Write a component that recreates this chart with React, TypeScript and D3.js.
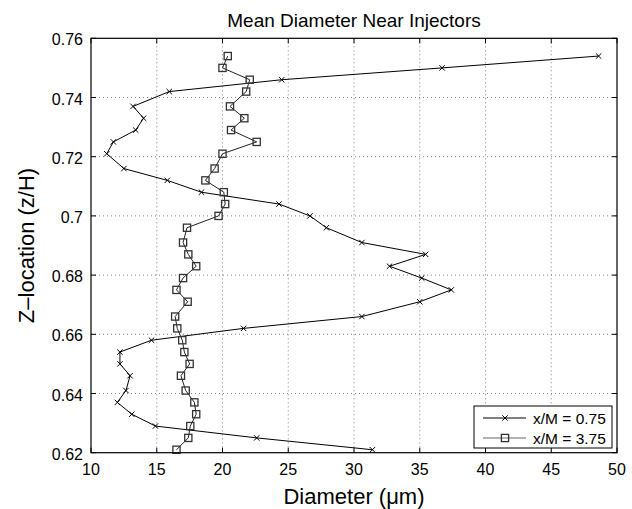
import React from "react";
import * as d3 from "d3";

const zLocations = [0.754, 0.750, 0.746, 0.742, 0.737, 0.733, 0.729, 0.725, 0.721, 0.716, 0.712, 0.708, 0.704, 0.700, 0.696, 0.691, 0.687, 0.683, 0.679, 0.675, 0.671, 0.666, 0.662, 0.658, 0.654, 0.650, 0.646, 0.641, 0.637, 0.633, 0.629, 0.625, 0.621];
const diamXM075 = [48.6, 36.7, 24.5, 15.95, 13.2, 14.0, 13.4, 11.7, 11.2, 12.5, 15.8, 18.4, 24.3, 26.65, 27.9, 30.6, 35.45, 32.7, 35.15, 37.4, 35.0, 30.6, 21.6, 14.6, 12.2, 12.2, 12.97, 12.66, 12.0, 13.1, 14.9, 22.6, 31.4];
const diamXM375 = [20.4, 20.0, 22.07, 21.8, 20.57, 21.66, 20.65, 22.6, 20.0, 19.4, 18.7, 20.1, 20.2, 19.7, 17.3, 17.0, 17.4, 18.0, 17.0, 16.5, 17.35, 16.4, 16.56, 16.94, 17.1, 17.5, 16.84, 17.2, 17.86, 18.0, 17.55, 17.4, 16.5];
const xTicks = [10, 15, 20, 25, 30, 35, 40, 45, 50];
const yTicks = [0.62, 0.64, 0.66, 0.68, 0.7, 0.72, 0.74, 0.76];
const seriesNames = ["x/M = 0.75", "x/M = 3.75"];

const W = 632, H = 509;
const L = 91, R = 617, T = 38.3, B = 452.7;
const FONT = "'Liberation Sans', Arial, Helvetica, sans-serif";

export default function App() {
  const x = d3.scaleLinear().domain([10, 50]).range([L, R]);
  const y = d3.scaleLinear().domain([0.62, 0.76]).range([B, T]);
  const line = d3.line<[number, number]>().x(d => x(d[0])).y(d => y(d[1]));
  const s1: [number, number][] = diamXM075.map((v, i) => [v, zLocations[i]]);
  const s2: [number, number][] = diamXM375.map((v, i) => [v, zLocations[i]]);
  const tl = 5;
  const xm = 2.7;
  const sq = 3.6;
  const cross = (cx: number, cy: number, k: string) => (
    <path key={k} d={`M${cx - xm},${cy - xm}L${cx + xm},${cy + xm}M${cx - xm},${cy + xm}L${cx + xm},${cy - xm}`} stroke="#000" strokeWidth={1} fill="none" />
  );
  const square = (cx: number, cy: number, k: string) => (
    <rect key={k} x={cx - sq} y={cy - sq} width={sq * 2} height={sq * 2} stroke="#333" strokeWidth={1.3} fill="none" />
  );
  const fmtY = (v: number) => (v === 0.7 ? "0.7" : v.toFixed(2));
  const legX = 474, legY = 406, legW = 138, legH = 42;
  return (
    <svg width={W} height={H} style={{ position: "absolute", left: 0, top: 0, background: "#fff" }} fontFamily={FONT}>
      <rect x={0} y={0} width={W} height={H} fill="#fff" />
      {/* grid */}
      {xTicks.slice(1, -1).map(t => (
        <line key={"gx" + t} x1={x(t)} x2={x(t)} y1={T} y2={B} stroke="#666" strokeWidth={0.8} strokeDasharray="1,3" />
      ))}
      {yTicks.slice(1, -1).map(t => (
        <line key={"gy" + t} x1={L} x2={R} y1={y(t)} y2={y(t)} stroke="#666" strokeWidth={0.8} strokeDasharray="1,3" />
      ))}
      {/* ticks */}
      {xTicks.map(t => (
        <g key={"tx" + t}>
          <line x1={x(t)} x2={x(t)} y1={B} y2={B - tl} stroke="#000" />
          <line x1={x(t)} x2={x(t)} y1={T} y2={T + tl} stroke="#000" />
          <text x={x(t)} y={474.5} fontSize={16} textAnchor="middle" fill="#000">{t}</text>
        </g>
      ))}
      {yTicks.map(t => (
        <g key={"ty" + t}>
          <line x1={L} x2={L + tl} y1={y(t)} y2={y(t)} stroke="#000" />
          <line x1={R} x2={R - tl} y1={y(t)} y2={y(t)} stroke="#000" />
          <text x={83} y={y(t) + 7} fontSize={16} textAnchor="end" fill="#000">{fmtY(t)}</text>
        </g>
      ))}
      {/* series */}
      <path d={line(s1) || ""} stroke="#000" strokeWidth={1} fill="none" />
      <path d={line(s2) || ""} stroke="#222" strokeWidth={1} fill="none" />
      {s1.map((d, i) => cross(x(d[0]), y(d[1]), "c" + i))}
      {s2.map((d, i) => square(x(d[0]), y(d[1]), "s" + i))}
      {/* axes box */}
      <rect x={L} y={T} width={R - L} height={B - T} fill="none" stroke="#000" strokeWidth={1.2} />
      {/* legend */}
      <rect x={legX} y={legY} width={legW} height={legH} fill="#fff" stroke="#000" strokeWidth={1} />
      <line x1={483} x2={526} y1={418} y2={418} stroke="#000" />
      {cross(505, 418, "lc")}
      <text x={533} y={423.5} fontSize={15.5} fill="#000">{seriesNames[0]}</text>
      <line x1={483} x2={526} y1={438} y2={438} stroke="#666" />
      {square(505, 438, "ls")}
      <text x={533} y={443.5} fontSize={15.5} fill="#000">{seriesNames[1]}</text>
      {/* labels */}
      <text x={(L + R) / 2} y={27} fontSize={19} textAnchor="middle" fill="#000">Mean Diameter Near Injectors</text>
      <text x={(L + R) / 2} y={504} fontSize={22} textAnchor="middle" fill="#000">Diameter (μm)</text>
      <text transform={`translate(34,${(T + B) / 2}) rotate(-90)`} fontSize={22} textAnchor="middle" fill="#000">Z–location (z/H)</text>
    </svg>
  );
}
